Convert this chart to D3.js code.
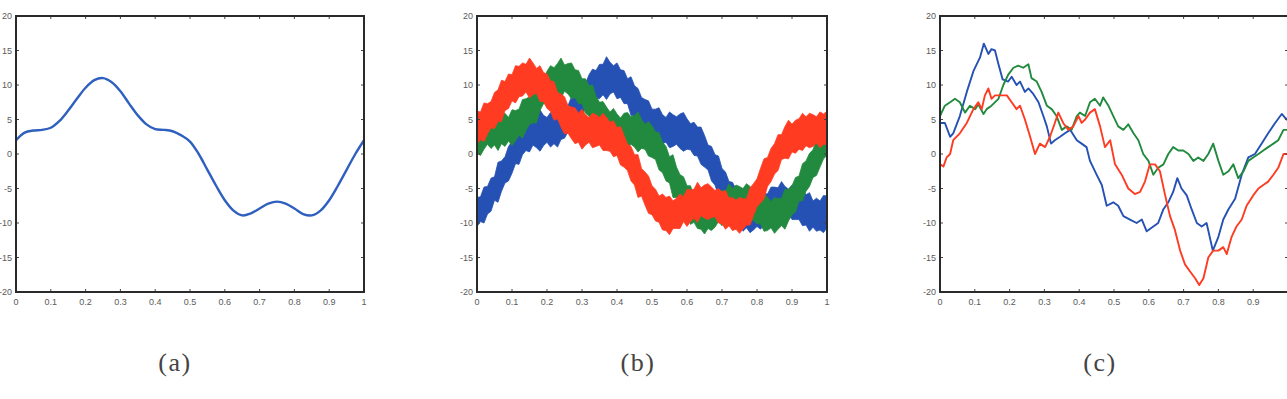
<!DOCTYPE html>
<html>
<head>
<meta charset="utf-8">
<script src="https://cdn.jsdelivr.net/npm/d3@7/dist/d3.min.js"></script>
<style>
  html, body { margin: 0; padding: 0; background: #fff; }
  svg { display: block; }
</style>
</head>
<body>
<svg id="chart" width="1287" height="399"></svg>
<script>
// ---------- tick labels ----------
const xTicks = [0, 0.1, 0.2, 0.3, 0.4, 0.5, 0.6, 0.7, 0.8, 0.9, 1];
const xTickLabels = ["0", "0.1", "0.2", "0.3", "0.4", "0.5", "0.6", "0.7", "0.8", "0.9", "1"];
const yTicks = [20, 15, 10, 5, 0, -5, -10, -15, -20];
const yTickLabels = ["20", "15", "10", "5", "0", "-5", "-10", "-15", "-20"];
const captions = ["(a)", "(b)", "(c)"];

// ---------- panel (a): smooth signal, sampled every 0.025 ----------
const aT = [0, 0.025, 0.05, 0.075, 0.1, 0.125, 0.15, 0.175, 0.2, 0.225, 0.25, 0.275, 0.3, 0.325, 0.35, 0.375, 0.4, 0.425, 0.45, 0.475, 0.5,
            0.525, 0.55, 0.575, 0.6, 0.625, 0.65, 0.675, 0.7, 0.725, 0.75, 0.775, 0.8, 0.825, 0.85, 0.875, 0.9, 0.925, 0.95, 0.975, 1];
const aSignal = [2.0, 3.1, 3.4, 3.5, 3.8, 4.8, 6.3, 8.0, 9.6, 10.7, 11.0, 10.4, 9.1, 7.3, 5.6, 4.3, 3.6, 3.5, 3.3, 2.7, 1.8,
                 0.0, -2.3, -4.6, -6.7, -8.2, -8.9, -8.6, -7.9, -7.2, -6.9, -7.2, -7.9, -8.7, -8.9, -8.2, -6.7, -4.6, -2.3, 0.0, 2.0];

// ---------- panel (b): noisy signals, band centre and half-width every 0.01 ----------
const bT = [0,0.01,0.02,0.03,0.04,0.05,0.06,0.07,0.08,0.09,0.1,0.11,0.12,0.13,0.14,0.15,0.16,0.17,0.18,0.19,0.2,
            0.21,0.22,0.23,0.24,0.25,0.26,0.27,0.28,0.29,0.3,0.31,0.32,0.33,0.34,0.35,0.36,0.37,0.38,0.39,0.4,
            0.41,0.42,0.43,0.44,0.45,0.46,0.47,0.48,0.49,0.5,0.51,0.52,0.53,0.54,0.55,0.56,0.57,0.58,0.59,0.6,
            0.61,0.62,0.63,0.64,0.65,0.66,0.67,0.68,0.69,0.7,0.71,0.72,0.73,0.74,0.75,0.76,0.77,0.78,0.79,0.8,
            0.81,0.82,0.83,0.84,0.85,0.86,0.87,0.88,0.89,0.9,0.91,0.92,0.93,0.94,0.95,0.96,0.97,0.98,0.99,1];
const bBlue = [-8.4,-8.0,-7.4,-6.7,-5.9,-5.0,-4.1,-3.2,-2.3,-1.4,-0.5,0.4,1.2,
               2.0,2.5,2.9,3.2,3.3,3.4,3.4,3.5,3.5,3.6,3.8,4.1,4.6,5.1,5.7,6.3,7.0,7.7,8.4,9.1,9.6,10.1,10.5,10.8,11.0,11.0,
               10.9,10.6,10.2,9.7,9.1,8.4,7.7,7.0,6.3,5.6,5.0,4.5,4.1,3.8,3.6,3.5,3.5,3.4,3.4,3.3,3.2,2.9,2.5,2.2,1.8,1.2,
               0.4,-0.5,-1.4,-2.3,-3.2,-4.1,-5.0,-5.9,-6.7,-7.4,-8.0,-8.4,-8.7,-8.9,-8.8,-8.6,-8.3,-8.0,-7.8,-7.5,-7.2,-7.0,
               -6.9,-6.9,-6.9,-7.0,-7.2,-7.5,-7.8,-8.1,-8.4,-8.7,-8.8,-8.9,-8.7,-8.4];
const bGreen = [2.0,2.5,2.9,3.2,3.3,3.4,3.4,3.5,3.5,3.6,3.8,4.1,4.6,5.1,5.7,6.3,7.0,7.7,8.4,9.1,
                9.6,10.1,10.5,10.8,11.0,11.0,10.9,10.6,10.2,9.7,9.1,8.4,7.7,7.0,6.3,5.6,5.0,4.5,4.1,3.8,
                3.6,3.5,3.5,3.4,3.4,3.3,3.2,2.9,2.5,2.2,1.8,1.2,0.4,-0.5,-1.4,-2.3,-3.2,-4.1,-5.0,-5.9,
                -6.7,-7.4,-8.0,-8.4,-8.7,-8.9,-8.8,-8.6,-8.3,-8.0,-7.8,-7.5,-7.2,-7.0,-6.9,-6.9,-6.9,-7.0,-7.2,-7.5,
                -7.8,-8.1,-8.4,-8.7,-8.8,-8.9,-8.7,-8.4,-8.0,-7.4,-6.7,-5.9,-5.0,-4.1,-3.2,-2.3,-1.4,-0.5,0.4,1.2,2.0];
const bRed = [3.8,4.1,4.6,5.1,5.7,6.3,7.0,7.7,8.4,9.1,
              9.6,10.1,10.5,10.8,11.0,11.0,10.9,10.6,10.2,9.7,
              9.1,8.4,7.7,7.0,6.3,5.6,5.0,4.5,4.1,3.8,
              3.6,3.5,3.5,3.4,3.4,3.3,3.2,2.9,2.5,2.2,
              1.8,1.2,0.4,-0.5,-1.4,-2.3,-3.2,-4.1,-5.0,-5.9,
              -6.7,-7.4,-8.0,-8.4,-8.7,-8.9,-8.8,-8.6,-8.3,-8.0,
              -7.8,-7.5,-7.2,-7.0,-6.9,-6.9,-6.9,-7.0,-7.2,-7.5,
              -7.8,-8.1,-8.4,-8.7,-8.8,-8.9,-8.7,-8.4,-7.6,-6.6,
              -5.6,-4.6,-3.6,-2.6,-1.6,-0.7,0.2,1.0,1.7,2.1,
              2.3,2.5,2.9,3.2,3.3,3.4,3.4,3.5,3.5,3.6,3.8];
const bBlueSpread = [2.1,1.8,2.6,2.0,2.4,1.7,2.9,2.2,1.9,2.5,
                     2.3,1.8,2.7,2.1,2.0,2.6,1.9,2.4,3.0,2.2,
                     1.8,2.5,2.1,2.8,2.0,2.3,1.9,2.6,2.2,2.9,
                     2.1,1.8,2.4,2.7,2.0,2.5,2.2,3.1,2.3,1.9,
                     2.6,2.0,2.4,1.8,2.8,2.2,2.5,1.9,2.3,2.7,
                     2.0,2.4,2.9,2.1,1.8,2.6,2.3,2.0,2.5,2.8,
                     2.2,1.9,2.4,2.1,2.7,2.3,1.8,2.5,2.2,2.9,
                     2.0,2.4,1.9,2.6,2.3,2.1,2.8,2.0,2.5,2.2,
                     1.9,2.6,2.3,2.0,2.7,2.4,2.1,2.9,2.2,1.8,
                     2.5,2.3,2.0,2.6,2.2,2.8,1.9,2.4,2.1,2.7,2.3];
const bGreenSpread = [1.9,2.7,2.2,1.8,2.5,2.1,2.9,2.0,2.4,1.7,
                      2.6,2.2,1.9,2.8,2.3,2.0,2.5,3.2,2.1,1.8,
                      2.4,2.7,2.0,2.3,2.9,1.9,2.2,2.6,2.0,2.4,
                      1.8,2.5,2.2,3.0,2.1,1.9,2.6,2.3,2.0,2.8,
                      2.2,1.7,2.4,2.6,2.0,2.3,2.9,2.1,1.8,2.5,
                      2.3,2.0,2.7,2.2,2.5,1.9,3.1,2.2,2.0,2.6,
                      2.1,2.8,1.9,2.4,2.2,2.7,2.0,2.5,2.3,1.8,
                      2.6,2.1,2.9,2.0,2.4,2.2,1.9,2.7,2.5,2.1,
                      2.3,2.0,2.8,2.4,1.9,2.6,2.2,2.0,2.9,2.3,
                      2.1,2.5,1.8,2.7,2.2,2.4,2.0,2.6,2.3,1.9,2.2];
const bRedSpread = [2.4,2.0,2.8,2.2,1.9,2.6,2.3,3.0,2.1,2.5,
                    1.9,2.7,2.2,2.4,2.0,2.9,2.3,1.8,2.6,2.1,
                    2.5,2.2,2.8,1.9,2.4,2.7,2.0,2.3,2.6,2.1,
                    2.9,2.2,1.8,2.5,2.3,2.0,2.7,2.4,2.1,2.6,
                    2.0,2.8,2.3,1.9,2.5,2.2,3.1,2.0,2.4,2.7,
                    2.1,2.3,1.9,2.6,2.4,2.8,2.0,2.2,2.5,1.8,
                    2.7,2.3,2.1,2.9,2.0,2.4,2.6,2.2,1.9,2.5,
                    2.3,2.8,2.0,2.4,2.1,2.6,2.2,1.9,2.7,2.3,
                    2.0,2.5,2.9,2.1,2.4,2.2,2.6,1.8,2.3,2.8,
                    2.0,2.4,2.2,2.7,2.1,2.5,2.3,1.9,2.6,2.2,2.4];

// ---------- panel (c): random-walk-like paths ----------
const cBlueT = [0,0.014,0.029,0.038,0.057,0.077,0.096,0.115,0.126,0.139,0.148,0.158,0.168,0.180,0.196,0.206,0.220,0.230,0.244,0.254,
                0.268,0.283,0.297,0.307,0.319,0.330,0.345,0.359,0.374,0.393,0.407,0.421,0.431,0.450,0.465,0.479,0.498,0.512,0.527,0.546,
                0.565,0.580,0.594,0.613,0.627,0.642,0.656,0.670,0.682,0.694,0.709,0.723,0.738,0.752,0.766,0.784,0.800,0.814,0.829,0.848,
                0.867,0.886,0.905,0.924,0.943,0.963,0.982,0.996,1.0];
const cBlue = [4.5,4.5,2.5,3.0,5.5,9.0,12.0,14.0,16.0,14.5,15.2,15.0,13.0,10.8,10.5,11.2,10.0,10.5,9.0,9.5,
               8.7,7.5,5.5,4.0,1.5,2.0,2.5,3.0,3.5,2.0,1.5,1.0,-1.0,-3.0,-4.5,-7.5,-7.0,-7.5,-9.0,-9.5,
               -10.0,-9.5,-11.2,-10.5,-10.0,-8.0,-7.0,-5.5,-3.5,-5.0,-6.0,-8.0,-10.0,-10.5,-10.0,-14.0,-12.0,-9.5,-8.0,-6.5,
               -3.0,-0.5,0.0,1.5,3.0,4.5,5.8,5.0,5.3];
const cGreenT = [0,0.014,0.029,0.043,0.057,0.072,0.086,0.101,0.110,0.125,0.134,0.148,0.168,0.182,0.196,0.211,0.225,0.239,0.254,0.263,
                 0.278,0.292,0.307,0.321,0.335,0.350,0.364,0.378,0.393,0.402,0.417,0.431,0.445,0.460,0.469,0.484,0.498,0.512,0.527,0.541,
                 0.556,0.570,0.584,0.599,0.613,0.627,0.642,0.656,0.670,0.685,0.699,0.714,0.728,0.742,0.757,0.771,0.785,0.800,0.814,0.829,
                 0.843,0.857,0.872,0.886,0.900,0.915,0.929,0.943,0.958,0.972,0.987,1.0];
const cGreen = [5.5,7.0,7.5,8.0,7.5,6.0,7.0,6.5,7.2,5.8,6.5,7.0,8.0,10.0,11.5,12.5,12.8,12.5,13.0,11.0,
                10.5,9.0,7.0,6.5,5.5,3.5,4.0,3.5,5.5,6.0,5.5,7.5,8.0,7.0,8.2,7.0,5.5,4.0,3.5,4.3,
                3.0,2.0,0.0,-1.0,-3.0,-2.0,-1.5,0.0,1.0,0.5,0.5,0.0,-1.0,-0.5,-1.0,0.0,1.5,-1.0,-3.0,-2.5,
                -1.5,-3.5,-2.5,-1.0,-0.5,0.0,0.5,1.0,1.5,2.0,3.5,3.5];
const cRedT = [0,0.010,0.019,0.029,0.038,0.057,0.077,0.096,0.110,0.120,0.129,0.139,0.148,0.158,0.172,0.192,0.206,0.220,0.230,0.244,
               0.259,0.273,0.287,0.302,0.316,0.330,0.340,0.354,0.369,0.383,0.398,0.407,0.417,0.431,0.445,0.460,0.474,0.489,0.503,0.522,
               0.541,0.560,0.575,0.589,0.603,0.618,0.632,0.647,0.661,0.675,0.690,0.704,0.718,0.733,0.745,0.757,0.771,0.785,0.800,0.814,
               0.824,0.838,0.852,0.867,0.881,0.900,0.915,0.929,0.943,0.958,0.972,0.987,1.0];
const cRed = [-1.5,-1.8,-0.5,0.0,2.0,3.0,4.5,6.5,7.5,6.5,8.5,9.5,8.0,8.5,8.5,8.5,7.5,6.5,7.0,5.0,
              2.5,0.0,1.5,1.0,2.5,4.5,6.0,4.5,3.5,4.0,5.5,4.5,5.0,6.0,6.5,4.0,1.0,2.0,-1.5,-3.0,
              -5.0,-5.8,-5.5,-4.0,-1.5,-1.5,-2.5,-6.0,-9.0,-11.0,-14.0,-16.0,-17.0,-18.0,-19.0,-18.0,-15.0,-14.0,-14.0,-13.5,
              -14.5,-12.0,-10.5,-9.5,-7.5,-6.0,-5.0,-4.5,-4.0,-3.0,-2.0,0.0,0.0];

// ---------- drawing ----------
const BLUE = "#2451b3", GREEN = "#228a3e", RED = "#ff3b22";
const W = 1287;
const svg = d3.select("#chart");
const panels = [
  { left: 16,  width: 348, cap: 175 },
  { left: 477, width: 350, cap: 638 },
  { left: 940, width: 348, cap: 1100 }
];
const plotTop = 16, plotBottom = 292;
const tickFont = "'Liberation Sans', Arial, Helvetica, sans-serif";

panels.forEach((p, i) => {
  const x = d3.scaleLinear().domain([0, 1]).range([p.left, p.left + p.width]);
  const y = d3.scaleLinear().domain([-20, 20]).range([plotBottom, plotTop]);
  const g = svg.append("g");
  const clipId = "clip" + i;
  svg.append("clipPath").attr("id", clipId).append("rect")
    .attr("x", p.left).attr("y", plotTop).attr("width", p.width).attr("height", plotBottom - plotTop);
  const plot = g.append("g").attr("clip-path", `url(#${clipId})`);

  if (i === 0) {
    const line = d3.line().x((d, k) => x(aT[k])).y(d => y(d)).curve(d3.curveCatmullRom.alpha(0.5));
    plot.append("path").datum(aSignal).attr("d", line)
      .attr("fill", "none").attr("stroke", "#2f5fbf").attr("stroke-width", 2.4);
  } else if (i === 1) {
    const series = [[bBlue, bBlueSpread, BLUE], [bGreen, bGreenSpread, GREEN], [bRed, bRedSpread, RED]];
    series.forEach(([c, s, col]) => {
      const area = d3.area().x((d, k) => x(bT[k]))
        .y0((d, k) => y(d - s[k])).y1((d, k) => y(d + s[k]));
      plot.append("path").datum(c).attr("d", area)
        .attr("fill", col).attr("stroke", col).attr("stroke-width", 0.8).attr("stroke-linejoin", "miter");
    });
  } else {
    const series = [[cBlueT, cBlue, BLUE], [cGreenT, cGreen, GREEN], [cRedT, cRed, RED]];
    series.forEach(([t, v, col]) => {
      const line = d3.line().x((d, k) => x(t[k])).y(d => y(d));
      plot.append("path").datum(v).attr("d", line)
        .attr("fill", "none").attr("stroke", col).attr("stroke-width", 1.9).attr("stroke-linejoin", "round");
    });
  }

  // ticks (inside, on all four sides)
  const tl = 3;
  xTicks.forEach(t => {
    g.append("line").attr("x1", x(t)).attr("x2", x(t)).attr("y1", plotBottom).attr("y2", plotBottom - tl)
      .attr("stroke", "#444").attr("stroke-width", 1);
    g.append("line").attr("x1", x(t)).attr("x2", x(t)).attr("y1", plotTop).attr("y2", plotTop + tl)
      .attr("stroke", "#444").attr("stroke-width", 1);
  });
  yTicks.forEach(v => {
    g.append("line").attr("x1", p.left).attr("x2", p.left + tl).attr("y1", y(v)).attr("y2", y(v))
      .attr("stroke", "#444").attr("stroke-width", 1);
    g.append("line").attr("x1", p.left + p.width).attr("x2", p.left + p.width - tl).attr("y1", y(v)).attr("y2", y(v))
      .attr("stroke", "#444").attr("stroke-width", 1);
  });

  // frame
  g.append("rect").attr("x", p.left).attr("y", plotTop).attr("width", p.width).attr("height", plotBottom - plotTop)
    .attr("fill", "none").attr("stroke", "#2a2a2a").attr("stroke-width", 2);

  // tick labels (labels whose centre falls outside the page are not drawn, as in the cropped original)
  const visX = xTicks.map((d, k) => ({ d, k })).filter(o => x(o.d) + 3 <= W);
  g.selectAll("text.xl").data(visX).enter().append("text")
    .attr("x", o => x(o.d)).attr("y", plotBottom + 13).attr("text-anchor", "middle")
    .attr("font-family", tickFont).attr("font-size", 9).attr("fill", "#5a5a5a")
    .text(o => xTickLabels[o.k]);
  g.selectAll("text.yl").data(yTicks).enter().append("text")
    .attr("x", p.left - 4).attr("y", d => y(d) + 3.2).attr("text-anchor", "end")
    .attr("font-family", tickFont).attr("font-size", 9).attr("fill", "#5a5a5a")
    .text((d, k) => yTickLabels[k]);

  // caption
  svg.append("text").attr("x", p.cap).attr("y", 371).attr("text-anchor", "middle")
    .attr("font-family", "'Liberation Serif', 'DejaVu Serif', serif").attr("font-size", 26)
    .attr("letter-spacing", 1.5).attr("fill", "#444")
    .text(captions[i]);
});
</script>
</body>
</html>
